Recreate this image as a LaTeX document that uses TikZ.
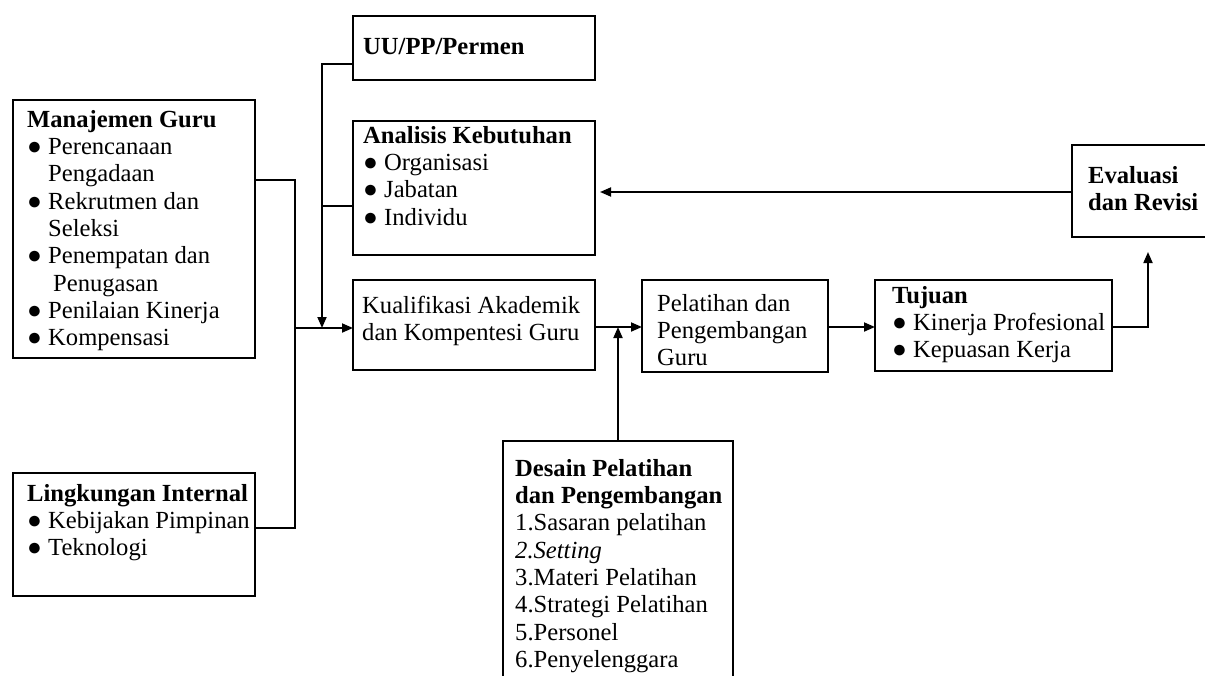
\documentclass[tikz,border=0pt]{standalone}
\usepackage{fontspec}
\setmainfont{Liberation Serif}
\usetikzlibrary{calc,arrows.meta}
\newcommand{\bul}{●\ }
\newcommand{\ind}{\phantom{●\ }}
\begin{document}
\begin{tikzpicture}[x=1pt,y=-1pt,
  box/.style={draw, line width=1.8pt, inner sep=0pt, outer sep=0pt, anchor=north west},
  txt/.style={anchor=north west, align=left, inner sep=0pt, font=\fontsize{24.6}{27.3}\selectfont},
  ln/.style={line width=1.8pt},
  arr/.style={line width=1.8pt, -{Triangle[length=11pt,width=9pt]}}]
\useasboundingbox (0,0) rectangle (1205,675);
\clip (0,0) rectangle (1205,675);
\fill[white] (0,0) rectangle (1205,675);
% boxes
\node[box, minimum width=242pt, minimum height=258pt] (mg) at (13,100) {};
\node[box, minimum width=242pt, minimum height=123pt] (li) at (13,473) {};
\node[box, minimum width=242pt, minimum height=64pt] (uu) at (353,16) {};
\node[box, minimum width=242pt, minimum height=134pt] (an) at (353,121) {};
\node[box, minimum width=242pt, minimum height=90pt] (kq) at (353,280) {};
\node[box, minimum width=186pt, minimum height=92pt] (pg) at (642,280) {};
\node[box, minimum width=237pt, minimum height=91pt] (tj) at (875,280) {};
\node[box, minimum width=160pt, minimum height=92pt] (ev) at (1072,145) {};
\node[box, minimum width=230pt, minimum height=260pt] (ds) at (503,441) {};
% texts
\node[txt] (mgt) at (27,108) {\strut\textbf{Manajemen Guru}\\ \bul Perencanaan\\ \ind Pengadaan\\ \bul Rekrutmen dan\\ \ind Seleksi\\ \bul Penempatan dan\\ \ind\hspace{5pt}Penugasan\\ \bul Penilaian Kinerja\\ \bul Kompensasi};
\node[txt] (lit) at (27,482) {\strut\textbf{Lingkungan Internal}\\ \bul Kebijakan Pimpinan\\ \bul Teknologi};
\node[txt] (uut) at (363,35) {\strut\textbf{UU/PP/Permen}};
\node[txt] (ant) at (363,124) {\strut\textbf{Analisis Kebutuhan}\\ \bul Organisasi\\ \bul Jabatan\\ \bul Individu};
\node[txt] (kqt) at (362,294) {\strut Kualifikasi Akademik\\ dan Kompentesi Guru};
\node[txt] (pgt) at (657,292) {\strut Pelatihan dan\\ Pengembangan\\ Guru};
\node[txt] (tjt) at (892,284) {\strut\textbf{Tujuan}\\ \bul Kinerja Profesional\\ \bul Kepuasan Kerja};
\node[txt] (evt) at (1088,164) {\strut\textbf{Evaluasi}\\ \textbf{dan Revisi}};
\node[txt] (dst) at (515,457) {\strut\textbf{Desain Pelatihan}\\ \textbf{dan Pengembangan}\\ 1.Sasaran pelatihan\\ \textit{2.Setting}\\ 3.Materi Pelatihan\\ 4.Strategi Pelatihan\\ 5.Personel\\ 6.Penyelenggara};
% connectors
\coordinate (jm) at (295,328);
\coordinate (ju) at (322,328);
\coordinate (je) at (1148,252);
\draw[ln] (mg.east |- 0,180) -| (jm |- 0,528) -- (li.east |- 0,528);
\draw[arr] (jm) -- (kq.west |- jm);
\draw[arr] (uu.west |- 0,64) -| (ju);
\draw[ln] (an.west |- 0,206) -- (ju |- 0,206);
\draw[arr] (kq.east |- 0,327) -- (pg.west |- 0,327);
\draw[arr] (ds.north) -- (ds.north |- 0,327);
\draw[arr] (pg.east |- 0,327) -- (tj.west |- 0,327);
\draw[arr] (tj.east |- 0,327) -| (je);
\draw[arr] (ev.west |- 0,192) -- ([xshift=5pt]an.east |- 0,192);
\end{tikzpicture}
\end{document}
